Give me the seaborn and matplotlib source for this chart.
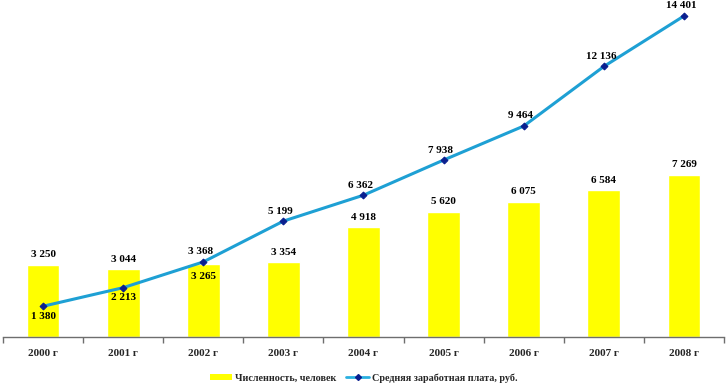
import numpy as np
import pandas as pd
import matplotlib
matplotlib.use("Agg")
import matplotlib.pyplot as plt
import seaborn as sns
from matplotlib.patches import Patch
from matplotlib.lines import Line2D

years = ["2000 г", "2001 г", "2002 г", "2003 г", "2004 г", "2005 г", "2006 г", "2007 г", "2008 г"]
headcount = [3250, 3044, 3265, 3354, 4918, 5620, 6075, 6584, 7269]
salary = [1380, 2213, 3368, 5199, 6362, 7938, 9464, 12136, 14401]
bar_label = "Численность, человек"
line_label = "Средняя заработная плата, руб."

sns.set_theme(style="white")
plt.rcParams['font.family'] = ['Liberation Serif', 'DejaVu Serif']
plt.rcParams['font.weight'] = 'bold'

df = pd.DataFrame({"year": years, "headcount": headcount, "salary": salary})
df["pos"] = np.arange(len(years))

fig = plt.figure(figsize=(7.27, 3.89), dpi=100)
ax = fig.add_axes([3/727, 1-337/389, 721/727, 327/389])

sns.barplot(data=df, x="year", y="headcount", color="#ffff00", saturation=1,
            width=0.41, ax=ax, zorder=2)
sns.lineplot(data=df, x="pos", y="salary", color="#1ea0d4", linewidth=2.2,
             marker="D", markersize=3.5, markerfacecolor="#0a1f8f",
             markeredgecolor="#0a1f8f", ax=ax, zorder=3)

def fmt(v):
    return f"{v:,}".replace(",", " ")

fs = 8
for i, v in enumerate(headcount):
    dy = -12 if i == 2 else 4
    ax.annotate(fmt(v), (i, v), xytext=(0, dy), textcoords="offset points",
                ha="center", va="bottom", fontsize=fs, fontweight="bold", color="black", zorder=4)
for i, v in enumerate(salary):
    if i in (0, 1):
        ax.annotate(fmt(v), (i, v), xytext=(0, -4), textcoords="offset points",
                    ha="center", va="top", fontsize=fs, fontweight="bold", color="black", zorder=4)
    else:
        ax.annotate(fmt(v), (i, v), xytext=(-2, 4), textcoords="offset points",
                    ha="center", va="bottom", fontsize=fs, fontweight="bold", color="black", zorder=4)

ax.set_xlim(-0.5, len(years) - 0.5)
ax.set_ylim(0, 14670)
ax.set_xlabel("")
ax.set_ylabel("")
ax.set_yticks([])
for s in ["top", "right", "left"]:
    ax.spines[s].set_visible(False)
ax.spines["bottom"].set_color("#6e6e6e")
ax.spines["bottom"].set_linewidth(1)

ax.set_xticks(np.arange(-0.5, len(years), 1.0), minor=False)
ax.set_xticklabels([])
ax.tick_params(axis="x", which="major", direction="out", length=4, color="#6e6e6e", width=1, bottom=True)
ax.set_xticks(np.arange(len(years)), minor=True)
ax.set_xticklabels(years, minor=True)
ax.tick_params(axis="x", which="minor", length=0, pad=9, labelsize=8)
for t in ax.get_xticklabels(minor=True):
    t.set_fontweight("bold")

handles = [Patch(facecolor="#ffff00", edgecolor="none", label=bar_label),
           Line2D([0], [0], color="#2ab0e0", lw=2, marker="D", markersize=3,
                  markerfacecolor="#0a1f8f", markeredgecolor="#0a1f8f", label=line_label)]
fig.legend(handles=handles, loc="center", bbox_to_anchor=(0.5, 1-378/389), ncol=2,
           frameon=False, prop={"size": 7.3, "weight": "bold"}, handlelength=2.2,
           handleheight=0.6, columnspacing=1.0, handletextpad=0.3)

fig.savefig("out.png", dpi=100)
